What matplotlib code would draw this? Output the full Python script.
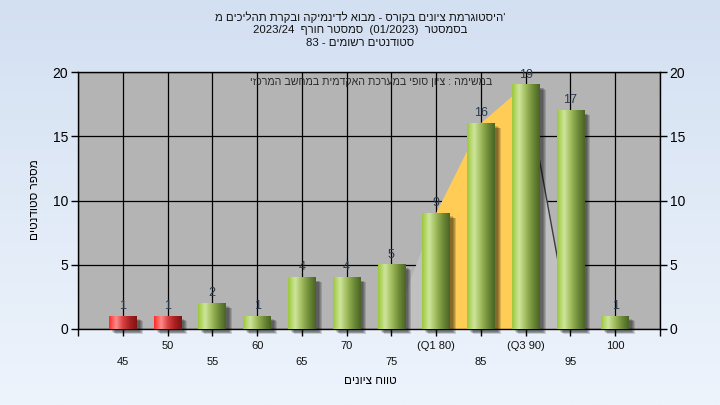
import re
import matplotlib.pyplot as plt
import numpy as np
from matplotlib.colors import LinearSegmentedColormap
from matplotlib.patches import Rectangle, Polygon
from matplotlib.transforms import blended_transform_factory

plt.rcParams['font.family'] = ['Liberation Sans', 'DejaVu Sans']

# grade bins and how many students fell in each one
grades = [45, 50, 55, 60, 65, 70, 75, 80, 85, 90, 95, 100]
counts = [1, 1, 2, 1, 4, 4, 5, 9, 16, 19, 17, 1]
tick_labels = ['45', '50', '55', '60', '65', '70', '75', '(Q1 80)', '85', '(Q3 90)', '95', '100']
pass_grade = 55

# outline drawn behind the bars, the part between the quartiles is yellow
shape_grades = [75, 80, 85, 90, 95]
shape_values = [0, 9, 16, 19, 0]
q1, q3 = 80, 90

title_lines = [
    "'היסטוגרמת ציונים בקורס - מבוא לדינמיקה ובקרת תהליכים מ",
    "בסמסטר  (01/2023)  סמסטר חורף  2023/24",
    "סטודנטים רשומים - 83",
]
note = "במשימה : ציון סופי במערכת האקדמית במחשב המרכזי"
x_title = "טווח ציונים"
y_title = "מספר סטודנטים"


def visual(s):
    # matplotlib has no bidi: flip the hebrew, keep numbers / latin runs as they are
    r = s[::-1]
    return re.sub(r"[0-9A-Za-z/().]+(?: [0-9A-Za-z/().]+)*", lambda m: m.group(0)[::-1], r)


fig = plt.figure(figsize=(7.2, 4.05), dpi=100)

# light blue gradient behind everything
bg = fig.add_axes([0, 0, 1, 1], zorder=-10)
bg_cmap = LinearSegmentedColormap.from_list('bg', ['#d3e0f2', '#eef4fc'])
bg.imshow(np.linspace(0, 1, 256)[:, None], cmap=bg_cmap, aspect='auto', extent=(0, 1, 0, 1))
bg.axis('off')

ax = fig.add_axes([78 / 720, 1 - 329 / 405, 582 / 720, 257 / 405])
ax.set_facecolor('#b4b4b4')
ax.set_axisbelow(True)
ax.grid(True, color='black', linewidth=0.9)

idx = {g: i for i, g in enumerate(grades)}
px_x = 13 / 582
px_y = 20 / 257

# grey outline and yellow quartile band
outline = [(idx[g], v) for g, v in zip(shape_grades, shape_values)]
ax.add_patch(Polygon(outline, closed=True, facecolor='#c0c0c0', edgecolor='none', zorder=1))
band = [(idx[q1], 0)] + [(idx[g], v) for g, v in zip(shape_grades, shape_values) if q1 <= g <= q3] + [(idx[q3], 0)]
ax.add_patch(Polygon(band, closed=True, facecolor='#ffcc55', edgecolor='none', zorder=1.1))
tail = [(idx[g], v) for g, v in zip(shape_grades, shape_values) if g >= q3]
ax.plot(*zip(*tail), color='#3c3c3c', linewidth=1, zorder=1.2)

green = LinearSegmentedColormap.from_list('g', ['#9cc83c', '#cfe69c', '#9fbb5c', '#6f8c38', '#4a6424'])
red = LinearSegmentedColormap.from_list('r', ['#ff2a2a', '#ff8c8c', '#d84040', '#a82020', '#801414'])
grad = np.linspace(0, 1, 64)[None, :]
w = 0.62

for i, (g, v) in enumerate(zip(grades, counts)):
    x0 = i - w / 2
    # soft drop shadow to the lower right
    for k in range(4):
        ax.add_patch(Rectangle((x0 + (3 + k) * px_x, -(3 + k * 0.6) * px_y), w, v,
                               facecolor='black', alpha=0.15, edgecolor='none',
                               zorder=2, clip_on=False))
    cmap = red if g < pass_grade else green
    ax.imshow(grad, cmap=cmap, extent=(x0, x0 + w, 0, v), aspect='auto',
              interpolation='bicubic', zorder=3)
    ax.annotate(str(v), (i, v), xytext=(0, 3), textcoords='offset points',
                ha='center', va='bottom', fontsize=9, color='#2b3a4c', zorder=6)

ax.set_xlim(-1, 12)
ax.set_ylim(0, 20)
ax.set_xticks(range(-1, 13))
ax.set_xticklabels([])
ax.set_yticks([0, 5, 10, 15, 20])
ax.tick_params(axis='both', length=5, width=1, color='black')
ax.tick_params(axis='y', labelsize=10, pad=2, right=True, labelright=True)
for s in ax.spines.values():
    s.set_linewidth(1)

# staggered category labels
tr = blended_transform_factory(ax.transData, ax.transAxes)
for i, lab in enumerate(tick_labels):
    y = -0.066 if i % 2 else -0.128
    ax.text(i, y, lab, transform=tr, ha='center', va='center', fontsize=8, color='#111111')

ax.text(0.503, 0.961, visual(note), transform=ax.transAxes, ha='center', va='center',
        fontsize=7.7, color='#2a2a2a', zorder=7)

for y, line in zip([17, 30, 43], title_lines):
    fig.text(0.5, 1 - y / 405, visual(line), ha='center', va='center', fontsize=8.2, color='#111111')

fig.text(370 / 720, 1 - 381 / 405, visual(x_title), ha='center', va='center', fontsize=8.5)
fig.text(35 / 720, 1 - 200 / 405, visual(y_title), ha='center', va='center', fontsize=8.5, rotation=90)

fig.savefig('out.png', dpi=100)
